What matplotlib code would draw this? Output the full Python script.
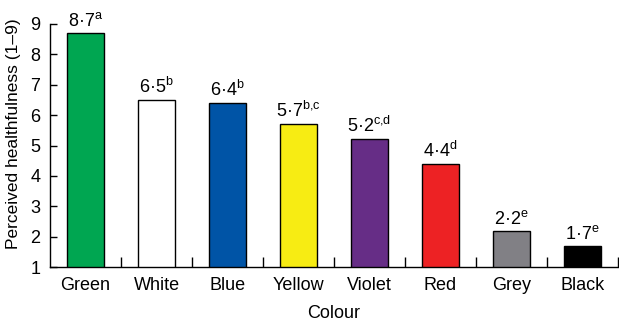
import numpy as np
import matplotlib
matplotlib.use("Agg")
import matplotlib.pyplot as plt

plt.rcParams['font.family'] = ['Liberation Sans', 'DejaVu Sans']
plt.rcParams['mathtext.fontset'] = 'custom'
plt.rcParams['mathtext.rm'] = 'Liberation Sans'
plt.rcParams['mathtext.it'] = 'Liberation Sans'

colours = ["Green", "White", "Blue", "Yellow", "Violet", "Red", "Grey", "Black"]
scores = [8.7, 6.5, 6.4, 5.7, 5.2, 4.4, 2.2, 1.7]
letters = ["a", "b", "b", "b{,}c", "c{,}d", "d", "e", "e"]
bar_colours = ["#00a651", "#ffffff", "#0054a6", "#f7ec13", "#662d86",
               "#ed2224", "#818085", "#000000"]

fig = plt.figure(figsize=(6.19, 3.23), dpi=100)
ax = fig.add_axes([0.081, 0.173, 0.917, 0.753])

x = np.arange(len(colours)) + 0.5
ax.bar(x, scores, width=0.52, color=bar_colours, edgecolor="black", linewidth=1)

for xi, v, l in zip(x, scores, letters):
    label = ("%.1f" % v).replace(".", "\u00b7") + r"$^{\mathrm{" + l + "}}$"
    ax.text(xi, v + 0.1, label, ha="center", va="bottom", fontsize=13)

ax.set_xlim(0, len(colours))
ax.set_ylim(1, 9)
ax.set_yticks(range(1, 10))
ax.set_xticks(np.arange(1, len(colours) + 1))
ax.set_xticklabels([])
ax.set_xticks(x, minor=True)
ax.set_xticklabels(colours, minor=True, fontsize=13)
ax.tick_params(axis="x", which="minor", length=0, pad=7)
ax.tick_params(axis="x", which="major", direction="in", length=7, width=1)
ax.tick_params(axis="y", direction="in", length=5, width=1, labelsize=13, pad=7)

for s in ["top", "right"]:
    ax.spines[s].set_visible(False)
for s in ["left", "bottom"]:
    ax.spines[s].set_linewidth(1)

ax.set_xlabel("Colour", fontsize=13, labelpad=8)
ax.set_ylabel("Perceived healthfulness (1\u20139)", fontsize=12.5)
ax.yaxis.set_label_coords(-0.052, 0.55)

fig.savefig("out.png", dpi=100)
